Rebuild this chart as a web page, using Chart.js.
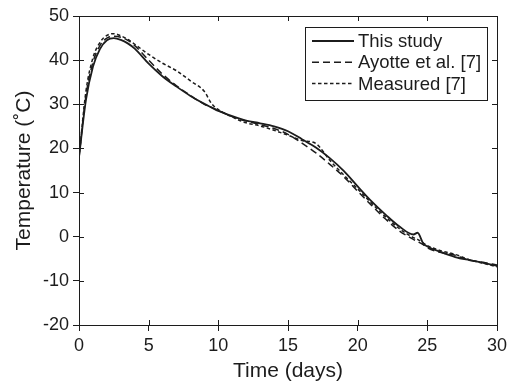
<!DOCTYPE html>
<html>
<head>
<meta charset="utf-8">
<script src="https://cdn.jsdelivr.net/npm/chart.js@4"></script>
<style>
  html, body { margin: 0; padding: 0; background: #fff; }
  #wrap { width: 512px; height: 384px; }
</style>
</head>
<body>
<div id="wrap"><canvas class="js-chart" width="512" height="384"></canvas></div>
<script>
const ctx = document.querySelector('.js-chart').getContext('2d');

// time axis (days)
const days = [0, 0.5, 1, 1.5, 2, 2.5, 3, 3.5, 4, 5, 6, 7, 8, 9, 9.5, 10, 11, 12, 13, 14, 15, 16, 17, 18, 19, 20, 21, 22, 23, 24, 24.3, 24.7, 25, 26, 27, 28, 29, 30];

const thisStudy = [18, 31, 38.5, 42.5, 44.5, 45, 44.6, 43.8, 42.6, 39.2, 36.3, 34.0, 31.9, 30.1, 29.3, 28.5, 27.3, 26.3, 25.7, 25.0, 23.9, 22.1, 20.2, 17.8, 14.9, 11.4, 8.0, 5.0, 2.3, 0.5, 0.9, -1.5, -2.2, -3.5, -4.6, -5.3, -5.9, -6.6];
const ayotte    = [18, 32, 39.5, 43.3, 45.0, 45.4, 45.2, 44.5, 43.3, 40.0, 36.8, 34.2, 32.0, 30.0, 29.3, 28.6, 27.2, 26.2, 25.4, 24.5, 23.2, 21.2, 19.0, 16.4, 13.6, 10.3, 7.1, 4.0, 1.3, -0.6, -1.1, -1.8, -2.5, -3.6, -4.2, -5.3, -5.8, -6.4];
const measured  = [18, 33, 40.5, 44.0, 45.6, 46.0, 45.5, 44.7, 43.6, 41.3, 39.3, 37.6, 35.3, 32.9, 30.2, 28.8, 27.1, 25.8, 25.1, 24.1, 23.0, 21.8, 21.1, 17.3, 14.0, 10.8, 7.6, 4.5, 1.8, -0.2, -0.6, -1.4, -2.0, -3.2, -4.0, -5.2, -6.0, -6.8];

const xTicks = [0, 5, 10, 15, 20, 25, 30];
const yTicks = [-20, -10, 0, 10, 20, 30, 40, 50];

const seriesNames = ['This study', 'Ayotte et al. [7]', 'Measured [7]'];
const dashes = [[], [7, 4], [3.5, 2.5]];

const INK = '#1c1c1c';
const FONT = '"Liberation Sans", Arial, sans-serif';

function pts(vals) {
    return vals.map((v, i) => ({ x: days[i], y: v }));
}

// inner ticks on all sides + top/right frame + boxed legend
const framePlugin = {
    id: 'frame',
    afterDraw(chart) {
        const c = chart.ctx;
        const a = chart.chartArea;
        const xs = chart.scales.x, ys = chart.scales.y;
        c.save();
        c.strokeStyle = INK;
        c.lineWidth = 1;
        c.setLineDash([]);
        c.beginPath();
        c.moveTo(a.left + 0.5, a.top + 0.5);
        c.lineTo(a.right + 0.5, a.top + 0.5);
        c.lineTo(a.right + 0.5, a.bottom + 0.5);
        c.stroke();
        const len = 5;
        xTicks.forEach(t => {
            const px = Math.round(xs.getPixelForValue(t)) + 0.5;
            c.beginPath();
            c.moveTo(px, a.bottom); c.lineTo(px, a.bottom - len);
            c.moveTo(px, a.top); c.lineTo(px, a.top + len);
            c.stroke();
        });
        yTicks.forEach(t => {
            const py = Math.round(ys.getPixelForValue(t)) + 0.5;
            c.beginPath();
            c.moveTo(a.left, py); c.lineTo(a.left + len, py);
            c.moveTo(a.right, py); c.lineTo(a.right - len, py);
            c.stroke();
        });

        // legend
        const bx = a.right - 192, by = a.top + 11, bw = 182, bh = 73;
        c.fillStyle = '#fff';
        c.fillRect(bx, by, bw, bh);
        c.strokeRect(bx + 0.5, by + 0.5, bw, bh);
        c.font = '18.5px ' + FONT;
        c.textBaseline = 'middle';
        c.fillStyle = INK;
        seriesNames.forEach((name, i) => {
            const y = by + 14 + i * 21.3;
            c.lineWidth = i === 0 ? 1.8 : 1.5;
            c.setLineDash(dashes[i]);
            c.beginPath();
            c.moveTo(bx + 7, y); c.lineTo(bx + 49, y);
            c.stroke();
            c.setLineDash([]);
            c.fillText(name, bx + 53, y + 1);
        });
        c.restore();
    }
};

new Chart(ctx, {
    type: 'line',
    data: {
        datasets: [
            { label: seriesNames[0], data: pts(thisStudy), borderColor: INK, borderWidth: 1.8, borderDash: dashes[0] },
            { label: seriesNames[1], data: pts(ayotte), borderColor: INK, borderWidth: 1.5, borderDash: dashes[1] },
            { label: seriesNames[2], data: pts(measured), borderColor: INK, borderWidth: 1.5, borderDash: dashes[2] }
        ]
    },
    options: {
        responsive: false,
        animation: false,
        layout: { padding: { left: 0, top: 16, right: 15, bottom: 0 } },
        elements: {
            point: { radius: 0 },
            line: { cubicInterpolationMode: 'monotone', fill: false }
        },
        plugins: { legend: { display: false }, tooltip: { enabled: false } },
        scales: {
            x: {
                type: 'linear',
                min: 0, max: 30,
                afterFit(scale) { scale.height = 59; },
                afterBuildTicks(scale) { scale.ticks = xTicks.map(v => ({ value: v })); },
                grid: { drawOnChartArea: false, tickLength: 6, color: INK },
                border: { color: INK },
                ticks: { color: INK, padding: 4, maxRotation: 0, font: { family: FONT, size: 18 } },
                title: { display: true, text: 'Time (days)', color: INK, padding: { top: 0, bottom: 0 }, font: { family: FONT, size: 21 } }
            },
            y: {
                min: -20, max: 50,
                afterFit(scale) { scale.width = 79; },
                afterBuildTicks(scale) { scale.ticks = yTicks.map(v => ({ value: v })); },
                grid: { drawOnChartArea: false, tickLength: 6, color: INK },
                border: { color: INK },
                ticks: { color: INK, padding: 4, font: { family: FONT, size: 18 } },
                title: { display: true, text: 'Temperature (˚C)', color: INK, padding: { top: 12, bottom: 0 }, font: { family: FONT, size: 21 } }
            }
        }
    },
    plugins: [framePlugin]
});
</script>
</body>
</html>
